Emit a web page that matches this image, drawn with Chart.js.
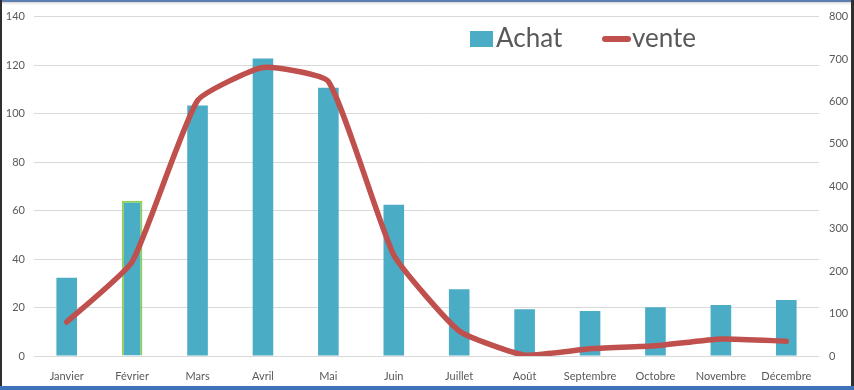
<!DOCTYPE html>
<html>
<head>
<meta charset="utf-8">
<script src="https://cdn.jsdelivr.net/npm/chart.js@4"></script>
<style>
  body { margin: 0; background: #fff; }
  #wrap { position: relative; width: 854px; height: 390px; overflow: hidden; background: #fff; }
  #wrap canvas { position: absolute; left: 0; top: 0; }
  .edge { position: absolute; pointer-events: none; }
</style>
</head>
<body>
<div id="wrap">
  <canvas id="venteChart" width="854" height="390"></canvas>
  <div class="edge" style="left:0;top:0;width:854px;height:2px;background:#5b7fb3"></div>
  <div class="edge" style="left:0;top:2px;width:854px;height:3px;background:linear-gradient(#d8d8d8,#fff)"></div>
  <div class="edge" style="left:0;top:0;width:2px;height:390px;background:#2f2f2f"></div>
  <div class="edge" style="left:851px;top:0;width:3px;height:390px;background:#2f2f2f"></div>
  <div class="edge" style="left:0;top:386px;width:854px;height:4px;background:#3e73b9"></div>
</div>
<script>
const mois = ["Janvier", "Février", "Mars", "Avril", "Mai", "Juin", "Juillet", "Août", "Septembre", "Octobre", "Novembre", "Décembre"];
const achat = [32.3, 64, 103.3, 122.7, 110.7, 62.4, 27.5, 19.3, 18.6, 20.1, 21, 23.1];
const vente = [80, 222, 602, 680, 647, 238, 59, 2, 17, 24, 40, 35];

const couleurAchat = '#4bacc6';
const couleurVente = '#c0504d';
const texte = '#595959';

// petite legende dessinee dans la zone du graphique, comme dans Excel
const legendePlugin = {
    id: 'legendeExcel',
    afterDraw(chart) {
        const ctx = chart.ctx;
        ctx.save();
        ctx.fillStyle = couleurAchat;
        ctx.fillRect(470, 31, 23, 16);
        ctx.strokeStyle = couleurVente;
        ctx.lineWidth = 6;
        ctx.lineCap = 'round';
        ctx.beginPath();
        ctx.moveTo(605, 39);
        ctx.lineTo(628, 39);
        ctx.stroke();
        ctx.fillStyle = texte;
        ctx.font = '26px Lato, "Open Sans", sans-serif';
        ctx.textBaseline = 'alphabetic';
        ctx.fillText('Achat', 496, 47);
        ctx.fillText('vente', 632, 47);
        ctx.restore();
    }
};

const ctx = document.getElementById('venteChart').getContext('2d');
const chart = new Chart(ctx, {
    data: {
        labels: mois,
        datasets: [{
            type: 'line',
            label: 'vente',
            data: vente,
            yAxisID: 'y1',
            borderColor: couleurVente,
            borderWidth: 5.5,
            tension: 0.15,
            pointRadius: 0,
            borderCapStyle: 'round',
            borderJoinStyle: 'round',
            order: 0
        }, {
            type: 'bar',
            label: 'Achat',
            data: achat,
            yAxisID: 'y',
            backgroundColor: couleurAchat,
            borderColor: mois.map((m, i) => i === 1 ? '#92d050' : 'rgba(0,0,0,0)'),
            borderWidth: mois.map((m, i) => i === 1 ? 2 : 0),
            barPercentage: 0.315,
            categoryPercentage: 1,
            order: 1
        }]
    },
    options: {
        responsive: false,
        animation: false,
        layout: { padding: { top: 12, left: 0, right: 0, bottom: 0 } },
        plugins: {
            legend: { display: false },
            tooltip: { enabled: false }
        },
        scales: {
            x: {
                grid: { display: false },
                border: { display: false },
                ticks: {
                    color: texte,
                    font: { family: 'Lato', size: 11 },
                    padding: 6,
                    maxRotation: 0,
                    autoSkip: false
                },
                afterFit(s) { s.height = 34; }
            },
            y: {
                position: 'left',
                min: 0,
                max: 140,
                ticks: {
                    stepSize: 20,
                    color: texte,
                    font: { family: 'Lato', size: 11 },
                    padding: 9
                },
                grid: { color: '#d9d9d9', lineWidth: 1, drawTicks: false },
                border: { display: false },
                afterFit(s) { s.width = 34; }
            },
            y1: {
                position: 'right',
                min: 0,
                max: 800,
                ticks: {
                    stepSize: 100,
                    color: texte,
                    font: { family: 'Lato', size: 11 },
                    padding: 10
                },
                grid: { display: false, drawTicks: false },
                border: { display: false },
                afterFit(s) { s.width = 35; }
            }
        }
    },
    plugins: [legendePlugin]
});
</script>
</body>
</html>
